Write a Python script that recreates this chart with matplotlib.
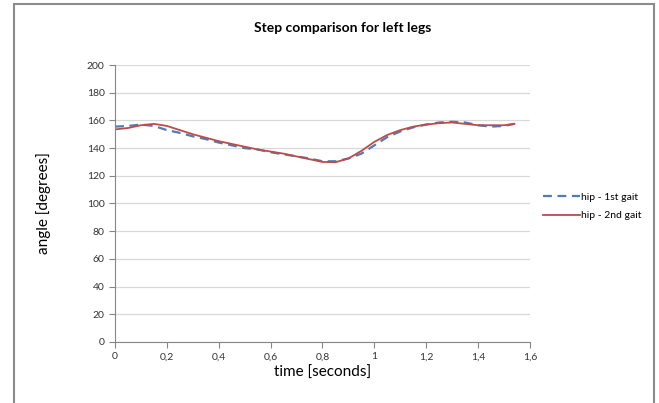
import matplotlib.pyplot as plt
import matplotlib.patches as patches
from matplotlib.ticker import FuncFormatter, MultipleLocator

plt.rcParams['font.family'] = ['Lato', 'DejaVu Sans']

# time in seconds
t = [0, 0.05, 0.1, 0.15, 0.2, 0.25, 0.3, 0.35, 0.4, 0.45, 0.5, 0.55, 0.6,
     0.65, 0.7, 0.75, 0.8, 0.85, 0.9, 0.95, 1.0, 1.05, 1.1, 1.15, 1.2, 1.25,
     1.3, 1.35, 1.4, 1.45, 1.5, 1.54]
# hip angle, first gait
hip1 = [155.5, 156, 157, 156, 153, 151, 148.5, 146.5, 144, 142, 140, 139, 137,
        135.5, 134, 132.5, 130.5, 130.5, 132.5, 136, 142, 148, 152, 155, 157,
        158.5, 159, 158.5, 156.5, 155.5, 156, 157.5]
# hip angle, second gait
hip2 = [153.5, 154.5, 156.5, 157.5, 156, 153, 150, 147.5, 145, 143, 141, 139,
        137.5, 136, 134, 132, 130, 129.8, 132.5, 138, 144.5, 149.5, 153, 155.5,
        157, 158, 158.5, 157.5, 156.5, 156.5, 156.5, 157.5]

fig = plt.figure(figsize=(6.59, 4.03), dpi=100)
ax = fig.add_axes([0.1745, 0.1514, 0.6297, 0.6873])

ax.plot(t, hip1, color='#4a7ebb', lw=1.6, ls=(0, (4, 2.5)), label='hip - 1st gait')
ax.plot(t, hip2, color='#be4b48', lw=1.3, label='hip - 2nd gait')

ax.set_xlim(0, 1.6)
ax.set_ylim(0, 200)
ax.xaxis.set_major_locator(MultipleLocator(0.2))
ax.yaxis.set_major_locator(MultipleLocator(20))
ax.xaxis.set_major_formatter(FuncFormatter(lambda v, p: ('%g' % round(v, 1)).replace('.', ',')))
ax.grid(axis='y', color='#d9d9d9', lw=0.9)
ax.set_axisbelow(True)
for s in ['top', 'right']:
    ax.spines[s].set_visible(False)
for s in ['left', 'bottom']:
    ax.spines[s].set_color('#868686')
ax.tick_params(axis='both', colors='#868686', labelcolor='#333333', labelsize=7.5,
               length=4, direction='out')

ax.set_xlabel('time [seconds]', fontsize=11, labelpad=3)
ax.set_ylabel('angle [degrees]', fontsize=11, labelpad=26)

fig.text(0.52, 0.93, 'Step comparison for left legs', ha='center', va='center',
         fontsize=10, fontweight='bold')

ax.legend(loc='center left', bbox_to_anchor=(1.01, 0.49), frameon=False,
          fontsize=7.5, handlelength=3.5, handletextpad=0.1, labelspacing=0.9)

fig.patches.append(patches.Rectangle((14 / 659, -0.05), 640 / 659, 1 - 4 / 403 + 0.05,
                                     transform=fig.transFigure, fill=False,
                                     edgecolor='#8c8c8c', lw=1.5))

fig.savefig('out.png', dpi=100)
